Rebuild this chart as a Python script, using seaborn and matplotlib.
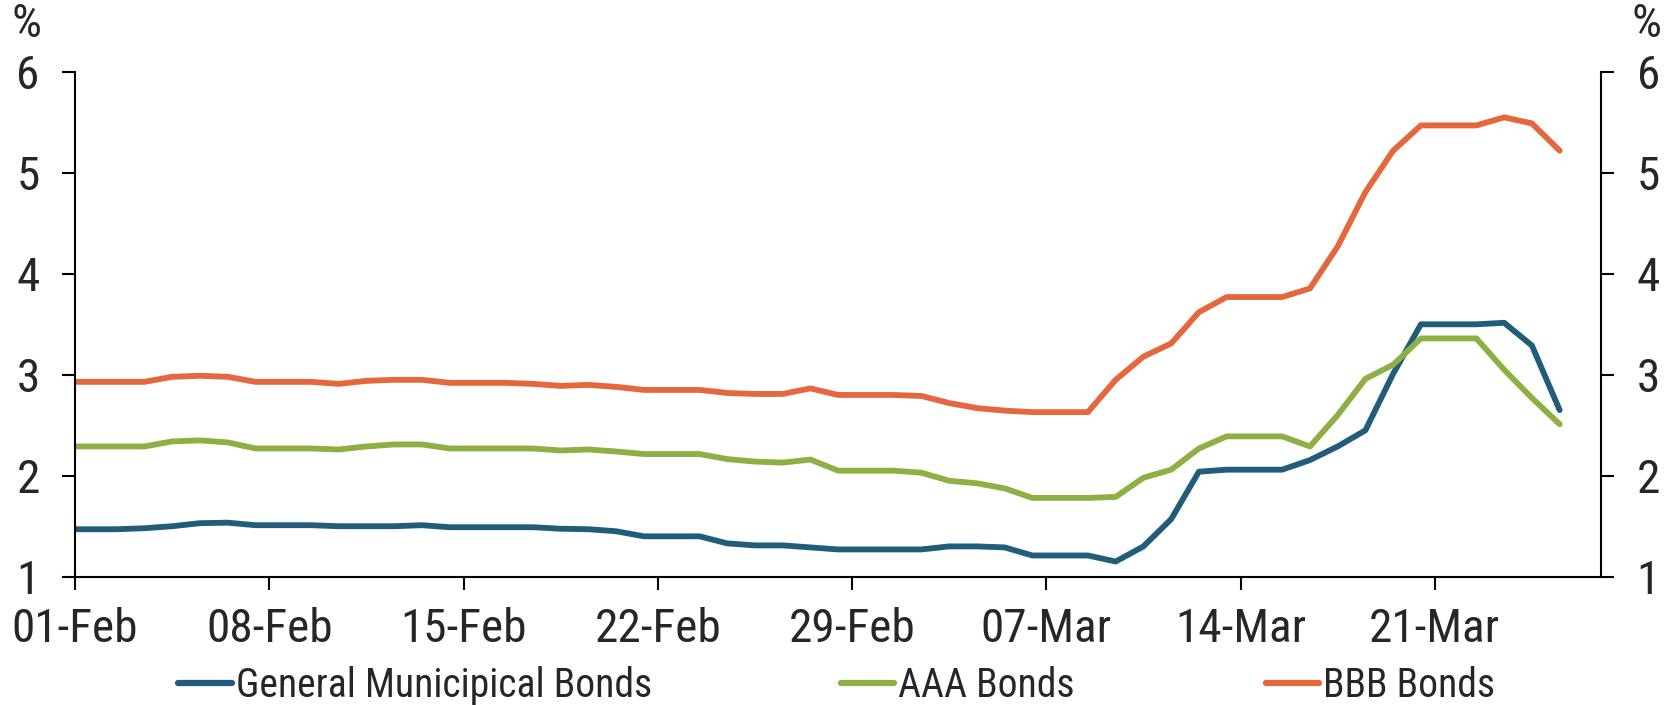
import matplotlib
matplotlib.use("Agg")
import matplotlib.pyplot as plt
from matplotlib.lines import Line2D
import pandas as pd
import seaborn as sns

# daily values (weekends carry the last close), 31-Jan .. 25-Mar 2020
start_date = "2020-01-31"
end_date = "2020-03-25"

general_muni = [
    1.47,
    1.47, 1.47, 1.48, 1.50, 1.53, 1.535, 1.51, 1.51, 1.51, 1.50,
    1.50, 1.50, 1.51, 1.49, 1.49, 1.49, 1.49, 1.475, 1.47, 1.45,
    1.40, 1.40, 1.40, 1.33, 1.31, 1.31, 1.29, 1.27, 1.27, 1.27,
    1.27, 1.30, 1.30, 1.29, 1.21, 1.21, 1.21, 1.15, 1.30, 1.57,
    2.04, 2.06, 2.06, 2.06, 2.155, 2.29, 2.45, 3.01, 3.50, 3.50,
    3.50, 3.515, 3.29, 2.65,
]
aaa_bonds = [
    2.29,
    2.29, 2.29, 2.29, 2.34, 2.35, 2.33, 2.27, 2.27, 2.27, 2.26,
    2.29, 2.31, 2.31, 2.27, 2.27, 2.27, 2.27, 2.25, 2.26, 2.24,
    2.215, 2.215, 2.215, 2.165, 2.14, 2.13, 2.16, 2.05, 2.05, 2.05,
    2.03, 1.95, 1.925, 1.875, 1.78, 1.78, 1.78, 1.79, 1.98, 2.06,
    2.27, 2.39, 2.39, 2.39, 2.29, 2.60, 2.96, 3.10, 3.36, 3.36,
    3.36, 3.05, 2.77, 2.51,
]
bbb_bonds = [
    2.93,
    2.93, 2.93, 2.93, 2.98, 2.99, 2.98, 2.93, 2.93, 2.93, 2.91,
    2.94, 2.95, 2.95, 2.92, 2.92, 2.92, 2.91, 2.89, 2.90, 2.88,
    2.85, 2.85, 2.85, 2.82, 2.81, 2.81, 2.865, 2.80, 2.80, 2.80,
    2.79, 2.72, 2.67, 2.645, 2.63, 2.63, 2.63, 2.95, 3.18, 3.31,
    3.62, 3.77, 3.77, 3.77, 3.855, 4.27, 4.81, 5.22, 5.47, 5.47,
    5.47, 5.55, 5.49, 5.22,
]

series_names = ["General Municipical Bonds", "AAA Bonds", "BBB Bonds"]
colors = ["#215D7B", "#8CB043", "#E4673E"]

tick_dates = ["2020-02-01", "2020-02-08", "2020-02-15", "2020-02-22",
              "2020-02-29", "2020-03-07", "2020-03-14", "2020-03-21"]
tick_labels = ["01-Feb", "08-Feb", "15-Feb", "22-Feb",
               "29-Feb", "07-Mar", "14-Mar", "21-Mar"]
y_ticks = [1, 2, 3, 4, 5, 6]

# points sit in the middle of each day
dates = pd.date_range(start_date, end_date, freq="D") + pd.Timedelta(hours=12)
wide = pd.DataFrame({"date": dates,
                     series_names[0]: general_muni,
                     series_names[1]: aaa_bonds,
                     series_names[2]: bbb_bonds})
df = wide.melt(id_vars="date", var_name="series", value_name="yield")

sns.set_style("white")
plt.rcParams["font.family"] = ["Roboto Condensed", "DejaVu Sans"]
fs = 34
legend_fs = 28.5

fig = plt.figure(figsize=(16.68, 7.05), dpi=100)
ax = fig.add_axes([0.045, 0.182, 0.915, 0.716])
sns.lineplot(data=df, x="date", y="yield", hue="series", hue_order=series_names,
             palette=colors, linewidth=4.2, legend=False, ax=ax)

ax.set_xlim(pd.Timestamp("2020-02-01"), pd.Timestamp("2020-03-27"))
ax.set_ylim(1, 6)
ax.set_xlabel("")
ax.set_ylabel("")

ax.set_xticks(pd.to_datetime(tick_dates))
ax.set_xticklabels(tick_labels)
ax.tick_params(axis="x", direction="out", length=9.5, width=1.5, color="black",
               bottom=True, pad=12, labelsize=fs)

ax.set_yticks(y_ticks)
ax.set_yticklabels([str(v) for v in y_ticks])
ax.tick_params(axis="y", direction="out", length=9.5, width=1.5, color="black",
               left=True, right=True, labelleft=True, labelright=True,
               pad=16, labelsize=fs)

for side in ["left", "right", "bottom"]:
    ax.spines[side].set_visible(True)
    ax.spines[side].set_color("black")
    ax.spines[side].set_linewidth(1.5)
ax.spines["top"].set_visible(False)
ax.grid(False)

fig.text(27 / 1668, 1 - 24 / 705, "%", ha="center", va="center", fontsize=fs)
fig.text(1647 / 1668, 1 - 24 / 705, "%", ha="center", va="center", fontsize=fs)

# one legend entry per slot, like the original's fixed legend columns
legend_x = [0.107, 0.504, 0.759]
for name, c, x in zip(series_names, colors, legend_x):
    h = Line2D([], [], color=c, linewidth=4.5, solid_capstyle="round")
    fig.legend([h], [name], loc="center left", bbox_to_anchor=(x, 0.028),
               frameon=False, fontsize=legend_fs, handlelength=1.35,
               handletextpad=0.1, borderpad=0, borderaxespad=0)

fig.savefig("out.png", dpi=100)
